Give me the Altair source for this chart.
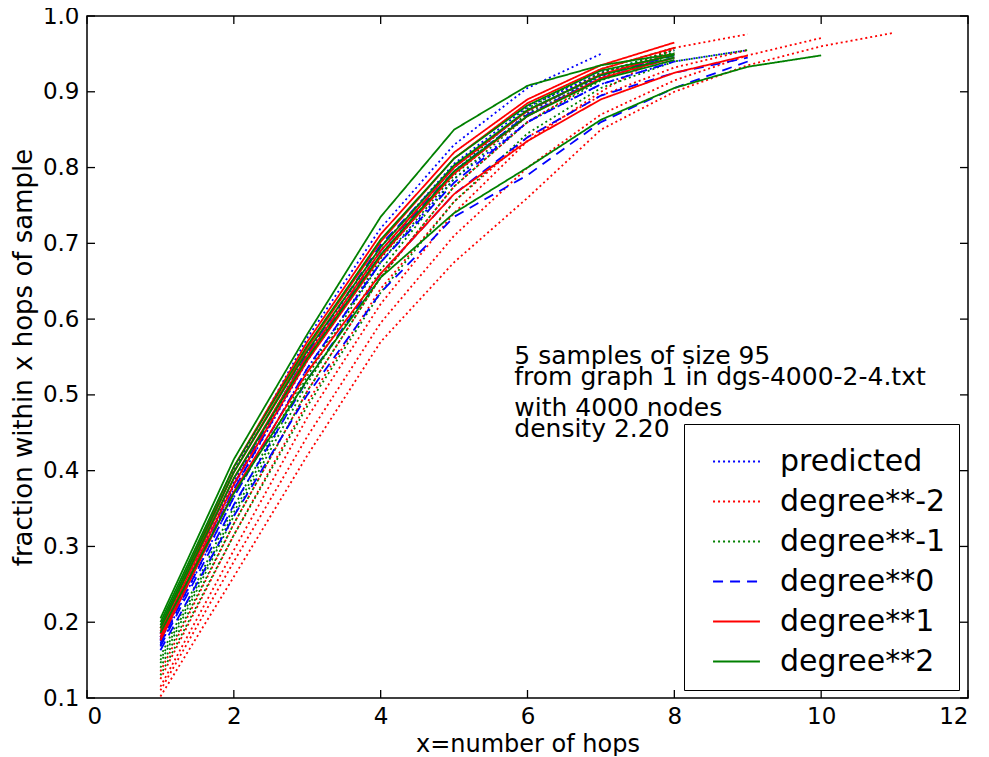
import altair as alt
import pandas as pd

# ---- data ----
methods = ["predicted", "degree**-2", "degree**-1", "degree**0", "degree**1", "degree**2"]
colors = ["#0000ff", "#ff0000", "#008000", "#0000ff", "#ff0000", "#008000"]
dashes = [[2, 3], [2, 3], [2, 3], [10, 7], [1, 0], [1, 0]]

predicted = [
    [0.185, 0.400, 0.575, 0.720, 0.830, 0.905, 0.950],
    [0.180, 0.385, 0.555, 0.695, 0.805, 0.880, 0.925, 0.955],
    [0.175, 0.375, 0.545, 0.685, 0.795, 0.870, 0.920, 0.950],
    [0.178, 0.380, 0.550, 0.690, 0.800, 0.875, 0.925, 0.950],
    [0.170, 0.365, 0.535, 0.675, 0.785, 0.860, 0.910, 0.940, 0.955],
]
deg_m2 = [
    [0.102, 0.260, 0.420, 0.570, 0.675, 0.760, 0.850, 0.900, 0.935, 0.960, 0.978],
    [0.110, 0.280, 0.445, 0.595, 0.710, 0.800, 0.870, 0.915, 0.948, 0.971],
    [0.115, 0.295, 0.470, 0.620, 0.740, 0.835, 0.900, 0.958, 0.976],
    [0.125, 0.315, 0.490, 0.640, 0.755, 0.840, 0.895, 0.932, 0.955],
    [0.135, 0.330, 0.505, 0.655, 0.775, 0.860, 0.918, 0.958],
]
deg_m1 = [
    [0.130, 0.315, 0.485, 0.635, 0.755, 0.845, 0.905, 0.940, 0.955],
    [0.140, 0.330, 0.505, 0.655, 0.775, 0.860, 0.915, 0.950],
    [0.146, 0.340, 0.515, 0.665, 0.785, 0.868, 0.922, 0.952],
    [0.150, 0.345, 0.525, 0.675, 0.790, 0.872, 0.925, 0.955],
    [0.155, 0.352, 0.530, 0.680, 0.795, 0.878, 0.930, 0.958],
]
deg_0 = [
    [0.163, 0.340, 0.500, 0.635, 0.735, 0.790, 0.860, 0.905, 0.940],
    [0.168, 0.355, 0.520, 0.660, 0.765, 0.840, 0.895, 0.925, 0.945],
    [0.172, 0.365, 0.535, 0.675, 0.780, 0.860, 0.910, 0.940],
    [0.176, 0.375, 0.548, 0.690, 0.795, 0.870, 0.918, 0.945],
    [0.180, 0.382, 0.555, 0.698, 0.802, 0.875, 0.922, 0.948],
]
deg_1 = [
    [0.192, 0.405, 0.570, 0.712, 0.820, 0.890, 0.935, 0.965],
    [0.188, 0.398, 0.562, 0.702, 0.812, 0.885, 0.930, 0.958],
    [0.184, 0.390, 0.552, 0.690, 0.800, 0.875, 0.923, 0.950],
    [0.176, 0.372, 0.530, 0.660, 0.765, 0.835, 0.890, 0.925, 0.948],
    [0.180, 0.382, 0.545, 0.682, 0.792, 0.868, 0.918, 0.945],
]
deg_2 = [
    [0.205, 0.415, 0.580, 0.735, 0.850, 0.908, 0.935, 0.950],
    [0.200, 0.405, 0.565, 0.705, 0.812, 0.882, 0.928, 0.948],
    [0.196, 0.398, 0.558, 0.695, 0.803, 0.876, 0.922, 0.945],
    [0.192, 0.390, 0.548, 0.685, 0.795, 0.868, 0.916, 0.942],
    [0.186, 0.370, 0.520, 0.655, 0.740, 0.800, 0.863, 0.905, 0.933, 0.948],
]

x_ticks = [0, 2, 4, 6, 8, 10, 12]
y_ticks = [0.1, 0.2, 0.3, 0.4, 0.5, 0.6, 0.7, 0.8, 0.9, 1.0]

note_lines = ["5 samples of size 95", "from graph 1 in dgs-4000-2-4.txt",
              "with 4000 nodes", "density 2.20"]
note_y = [0.541, 0.513, 0.472, 0.445]
note_x = 5.82

# ---- build table ----
groups = [predicted, deg_m2, deg_m1, deg_0, deg_1, deg_2]
rows = []
for mi, (m, g) in enumerate(zip(methods, groups)):
    for si, ys in enumerate(g):
        for k, v in enumerate(ys):
            rows.append({"method": m, "line": f"{mi}_{si}", "hops": k + 1, "frac": v})
df = pd.DataFrame(rows)

W, H = 881, 682
TL = 8
FONT = "DejaVu Sans"

xscale = alt.Scale(domain=[0, 12], nice=False, zero=False)
yscale = alt.Scale(domain=[0.1, 1.0], nice=False, zero=False)

X_AX = alt.Axis(values=x_ticks, format="d", title="x=number of hops",
                tickSize=0, labelPadding=7, domain=False, grid=False,
                labelFontSize=23, titleFontSize=24, titlePadding=4,
                labelColor="black", titleColor="black",
                labelFont=FONT, titleFont=FONT, titleFontWeight="normal")
Y_AX = alt.Axis(values=y_ticks, format=".1f", title="fraction within x hops of sample",
                tickSize=0, labelPadding=8, domain=False, grid=False,
                labelFontSize=23, titleFontSize=26, titlePadding=6,
                labelColor="black", titleColor="black",
                labelFont=FONT, titleFont=FONT, titleFontWeight="normal")

LEG = alt.Legend(title=None, orient="none", legendX=597, legendY=408,
                 symbolType="stroke", symbolSize=2200, symbolStrokeWidth=2,
                 symbolOffset=15,
                 labelFontSize=30, labelFont=FONT, labelColor="black",
                 padding=13, rowPadding=0, labelOffset=19,
                 strokeColor="black", fillColor="white", labelLimit=400)

lines = alt.Chart(df).mark_line(strokeWidth=1.8, clip=True).encode(
    x=alt.X("hops:Q", scale=xscale, axis=X_AX),
    y=alt.Y("frac:Q", scale=yscale, axis=Y_AX),
    color=alt.Color("method:N", scale=alt.Scale(domain=methods, range=colors), legend=LEG),
    strokeDash=alt.StrokeDash("method:N", scale=alt.Scale(domain=methods, range=dashes),
                              legend=LEG),
    detail="line:N",
    order="hops:Q",
)

xt = pd.DataFrame({"v": x_ticks})
yt = pd.DataFrame({"v": y_ticks})
tick_style = dict(color="black", strokeWidth=1.3)
x_bot = alt.Chart(xt).mark_rule(**tick_style).encode(
    x=alt.X("v:Q", scale=xscale, axis=X_AX), y=alt.value(H), y2=alt.value(H - TL))
x_top = alt.Chart(xt).mark_rule(**tick_style).encode(
    x=alt.X("v:Q", scale=xscale, axis=X_AX), y=alt.value(0), y2=alt.value(TL))
y_left = alt.Chart(yt).mark_rule(**tick_style).encode(
    y=alt.Y("v:Q", scale=yscale, axis=Y_AX), x=alt.value(0), x2=alt.value(TL))
y_right = alt.Chart(yt).mark_rule(**tick_style).encode(
    y=alt.Y("v:Q", scale=yscale, axis=Y_AX), x=alt.value(W - TL), x2=alt.value(W))

notes = alt.Chart(pd.DataFrame({"t": note_lines, "y": note_y, "x": [note_x] * 4})).mark_text(
    align="left", baseline="alphabetic", fontSize=25, font=FONT, color="black"
).encode(
    x=alt.X("x:Q", scale=xscale, axis=X_AX),
    y=alt.Y("y:Q", scale=yscale, axis=Y_AX),
    text="t:N",
)

chart = alt.layer(lines, x_bot, x_top, y_left, y_right, notes).properties(
    width=W, height=H,
    autosize=alt.AutoSizeParams(type="none"),
    padding={"left": 79, "top": 8, "right": 13, "bottom": 58},
).configure(background="white").configure_view(stroke="black", strokeWidth=1.5)

chart.save("out.html", embed_options={"renderer": "svg", "actions": False})
